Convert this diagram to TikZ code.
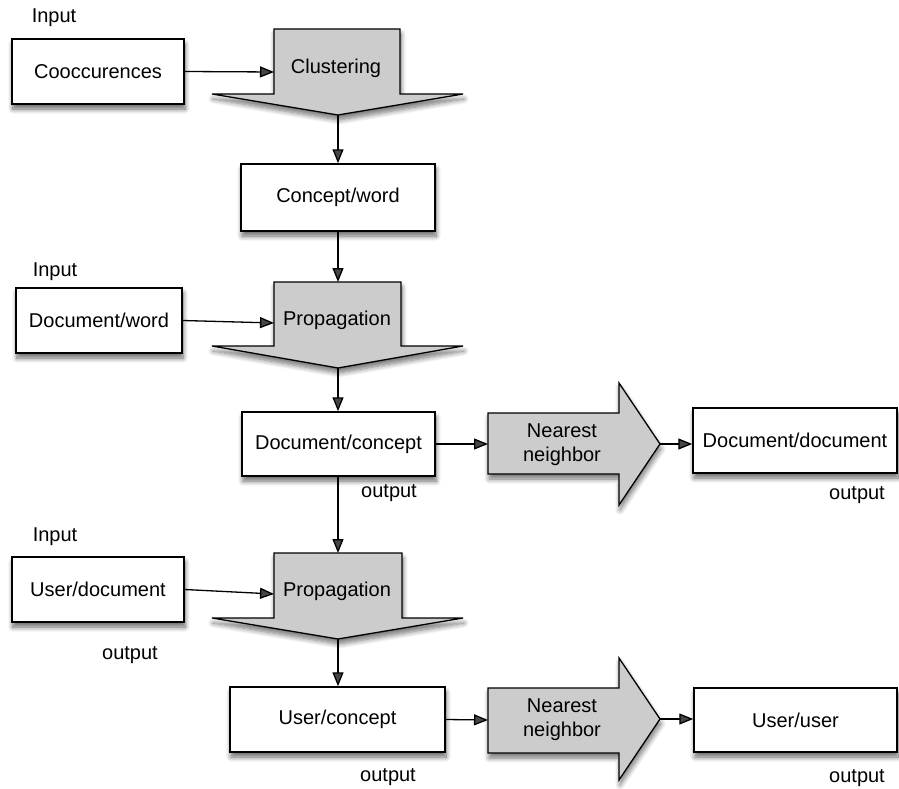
\documentclass[tikz,border=0pt]{standalone}
\usepackage{fontspec}
\setmainfont{Liberation Sans}
\usetikzlibrary{arrows.meta,shadows.blur}
\begin{document}
\begin{tikzpicture}[x=1pt,y=-1pt,
  every node/.style={font=\fontsize{20}{23}\selectfont},
  databox/.style={draw=black, line width=1.5pt, fill=white, rectangle,
    inner sep=0pt, minimum height=65pt,
    blur shadow={shadow xshift=1pt, shadow yshift=-5pt, shadow blur steps=8,
      shadow blur radius=5pt, shadow opacity=60}},
  procshape/.style={draw=black, line width=1.3pt, fill=black!20, line join=miter,
    blur shadow={shadow xshift=1pt, shadow yshift=-5pt, shadow blur steps=8,
      shadow blur radius=5pt, shadow opacity=55}},
  lbl/.style={inner sep=0pt},
  conn/.style={line width=1.3pt, -{Triangle[length=14pt,width=11pt]}}]
\useasboundingbox (0,0) rectangle (899,789);

% ---- process shapes ----
\path[procshape] (274,29) -- (400,29) -- (400,94) -- (463,94) -- (338,115)
  -- (212,94) -- (274,94) -- cycle;
\node[lbl] (clu) at (336,68) {Clustering};
\coordinate (clu-in) at (274,72);
\coordinate (clu-tip) at (338,115);

\path[procshape] (274,282) -- (401,282) -- (401,346) -- (463,346) -- (338,368)
  -- (212,346) -- (274,346) -- cycle;
\node[lbl] (prop1) at (337,320) {Propagation};
\coordinate (prop1-top) at (338,282);
\coordinate (prop1-in) at (274,323);
\coordinate (prop1-tip) at (338,368);

\path[procshape] (274,553) -- (402,553) -- (402,618) -- (463,618) -- (338,639)
  -- (212,618) -- (274,618) -- cycle;
\node[lbl] (prop2) at (337,591) {Propagation};
\coordinate (prop2-top) at (338,553);
\coordinate (prop2-in) at (274,594);
\coordinate (prop2-tip) at (338,639);

\path[procshape] (488,413) -- (619,413) -- (619,383) -- (660,444) -- (619,505)
  -- (619,474) -- (488,474) -- cycle;
\node[lbl, align=center, font=\fontsize{20}{24}\selectfont] (nn1) at (562,445) {Nearest\\neighbor};
\coordinate (nn1-in) at (488,444);
\coordinate (nn1-tip) at (660,444);

\path[procshape] (488,688) -- (619,688) -- (619,658) -- (660,719) -- (619,780)
  -- (619,753) -- (488,753) -- cycle;
\node[lbl, align=center, font=\fontsize{20}{24}\selectfont] (nn2) at (562,720) {Nearest\\neighbor};
\coordinate (nn2-in) at (488,720);
\coordinate (nn2-tip) at (660,719);

% ---- data boxes ----
\node[databox, minimum width=172pt] (cooc) at (98,71.5) {Cooccurences};
\node[databox, minimum width=194pt, minimum height=67pt] (cw) at (338,197.5) {Concept/word};
\node[databox, minimum width=166pt] (dw) at (99,320.5) {Document/word};
\node[databox, minimum width=193pt, minimum height=64pt] (dc) at (338.5,444) {Document/concept};
\node[databox, minimum width=204pt] (dd) at (795,440.5) {Document/document};
\node[databox, minimum width=172pt] (ud) at (98,589.5) {User/document};
\node[databox, minimum width=215pt] (uc) at (337.5,719.5) {User/concept};
\node[databox, minimum width=203pt, minimum height=64pt] (uu) at (795.5,720) {User/user};

% ---- labels ----
\node[lbl] (in1) at (54,18) {Input};
\node[lbl] (in2) at (55,272) {Input};
\node[lbl] (in3) at (55,537) {Input};
\node[lbl] (out1) at (389,493) {output};
\node[lbl] (out2) at (857,495) {output};
\node[lbl] (out3) at (130,655) {output};
\node[lbl] (out4) at (388,777) {output};
\node[lbl] (out5) at (857,778) {output};

% ---- connectors ----
\draw[conn] (cooc.east) -- (clu-in);
\draw[conn] (clu-tip) -- (cw.north);
\draw[conn] (cw.south) -- (prop1-top);
\draw[conn] (dw.east) -- (prop1-in);
\draw[conn] (prop1-tip) -- (dc.north -| prop1-tip);
\draw[conn] (dc.east) -- (nn1-in);
\draw[conn] (nn1-tip) -- (nn1-tip -| dd.west);
\draw[conn] (dc.south -| prop2-top) -- (prop2-top);
\draw[conn] (ud.east) -- (prop2-in);
\draw[conn] (prop2-tip) -- (uc.north -| prop2-tip);
\draw[conn] (uc.east) -- (nn2-in);
\draw[conn] (nn2-tip) -- (nn2-tip -| uu.west);
\end{tikzpicture}
\end{document}
